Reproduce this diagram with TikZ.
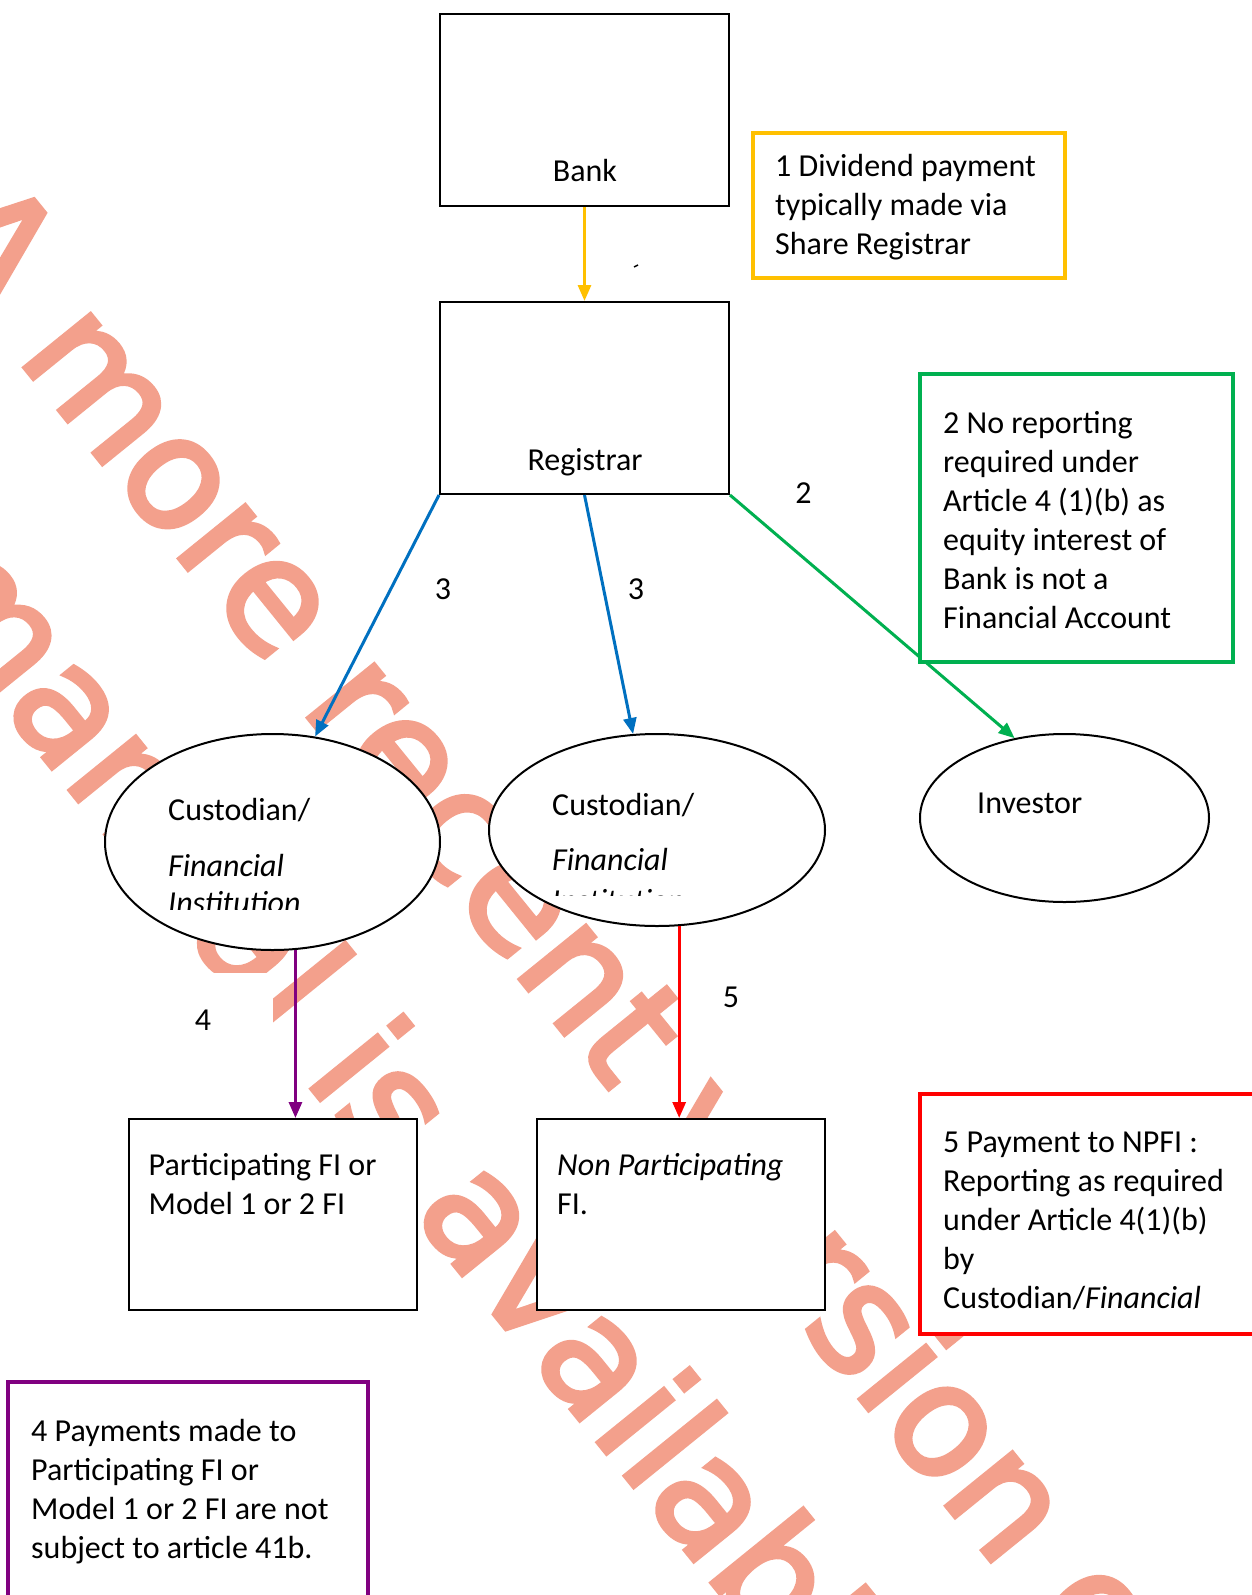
\documentclass[tikz,border=0pt]{standalone}
\usepackage{fontspec}
\setmainfont{Carlito}
\newfontfamily\wmfont[FakeBold=3]{DejaVu Sans}
\usetikzlibrary{arrows.meta,shapes.geometric}
\definecolor{cyel}{RGB}{255,192,0}
\definecolor{cgrn}{RGB}{0,176,80}
\definecolor{cblu}{RGB}{0,112,192}
\definecolor{cred}{RGB}{255,0,0}
\definecolor{cpur}{RGB}{128,0,128}
\definecolor{cwm}{RGB}{243,160,140}
\begin{document}
\begin{tikzpicture}[x=1pt,y=-1pt,
 box/.style={draw=black, line width=2pt, fill=white, inner sep=0pt},
 note/.style={line width=4pt, fill=white, inner sep=0pt},
 ell/.style={ellipse, draw=black, line width=2pt, fill=white, inner sep=0pt},
 txt/.style={font=\fontsize{32}{39}\selectfont, inner sep=0pt, align=left, anchor=base west},
 lab/.style={font=\fontsize{32}{39}\selectfont, inner sep=0pt},
 wm/.style={font=\wmfont\fontsize{155}{155}\selectfont, text=cwm, inner sep=0pt, rotate=-51, anchor=base west},
 flow/.style={line width=3pt, -{Triangle[length=16pt,width=13pt]}},
]
\useasboundingbox (0,0) rectangle (1252,1595);
\fill[white] (0,0) rectangle (1252,1595);

% watermark
\node[wm] (wm1) at (-82,236) {A more recent version of this};
\node[wm] (wm2) at (-94,588) {manual is available};
% white text-box area behind label 4
\fill[white] (150,973) rectangle (273,1080);

% main boxes
\node[box, minimum width=289pt, minimum height=192pt] (bank) at (584.5,110) {};
\node[lab, anchor=base] (bankt) at (585,181) {Bank};
\node[box, minimum width=289pt, minimum height=192pt] (reg) at (584.5,398) {};
\node[lab, anchor=base] (regt) at (585,470) {Registrar};

% ellipses
\node[ell, minimum width=335pt, minimum height=216pt] (fi1) at (272.5,842) {};
\node[ell, minimum width=336pt, minimum height=192pt] (fi2) at (657,830) {};
\node[ell, minimum width=289pt, minimum height=168pt] (inv) at (1064.5,818) {};

\node[txt] (fi1a) at (168,820) {Custodian/};
\node[txt] (fi1b) at (168,876) {\textit{Financial}};
\begin{scope}
\clip (150,880) rectangle (440,909);
\node[txt] (fi1c) at (168,913) {\textit{Institution}};
\end{scope}
\node[txt] (fi2a) at (552,815) {Custodian/};
\node[txt] (fi2b) at (552,870) {\textit{Financial}};
\begin{scope}
\clip (540,880) rectangle (800,895);
\node[txt] (fi2c) at (552,911) {\textit{Institution}};
\end{scope}
\node[txt] (invt) at (977,813) {Investor};

% lower boxes
\node[box, minimum width=288pt, minimum height=191pt] (pfi) at (273,1214.5) {};
\node[txt] (pfit) at (148.5,1214) {Participating FI or\\Model 1 or 2 FI};
\node[box, minimum width=288pt, minimum height=191pt] (npfi) at (681,1214.5) {};
\node[txt] (npfit) at (557,1214) {\textit{Non Participating}\\FI.};

% connectors
\draw[flow, cyel] (bank.south) -- (reg.north);
\draw[flow, cblu] (reg.south west) -- (fi1.68);
\draw[flow, cblu] (reg.south) -- (fi2.104);
\draw[flow, cgrn] (reg.south east) -- (inv.122);
\draw[flow, cpur] (fi1.282.4) -- (fi1.282.4 |- pfi.north);
\draw[flow, cred] (fi2.283.6) -- (fi2.283.6 |- npfi.north);
\draw[line width=1.5pt] (634,267) -- (638,265);

% labels
\node[lab] (l3a) at (443,589) {3};
\node[lab] (l3b) at (636,589) {3};
\node[lab] (l2) at (803.5,493) {2};
\node[lab] (l4) at (203,1020) {4};
\node[lab] (l5) at (731,997) {5};

% notes
\node[note, draw=cyel, minimum width=312pt, minimum height=145pt] (n1) at (909,205.5) {};
\node[txt] (n1t) at (775,254) {1 Dividend payment\\typically made via\\Share Registrar};
\node[note, draw=cgrn, minimum width=313pt, minimum height=288pt] (n2) at (1076.5,518) {};
\node[txt] (n2t) at (943,628) {2 No reporting\\required under\\Article 4 (1)(b) as\\equity interest of\\Bank is not a\\Financial Account};
\node[note, draw=cred, minimum width=345pt, minimum height=240pt] (n5) at (1092.5,1214) {};
\node[txt] (n5t) at (943,1308) {5 Payment to NPFI :\\Reporting as required\\under Article 4(1)(b)\\by\\Custodian/\textit{Financial}};
\node[note, draw=cpur, minimum width=360pt, minimum height=230pt] (n4) at (188,1497) {};
\node[txt] (n4t) at (31,1558) {4 Payments made to\\Participating FI or\\Model 1 or 2 FI are not\\subject to article 41b.};
\end{tikzpicture}
\end{document}
